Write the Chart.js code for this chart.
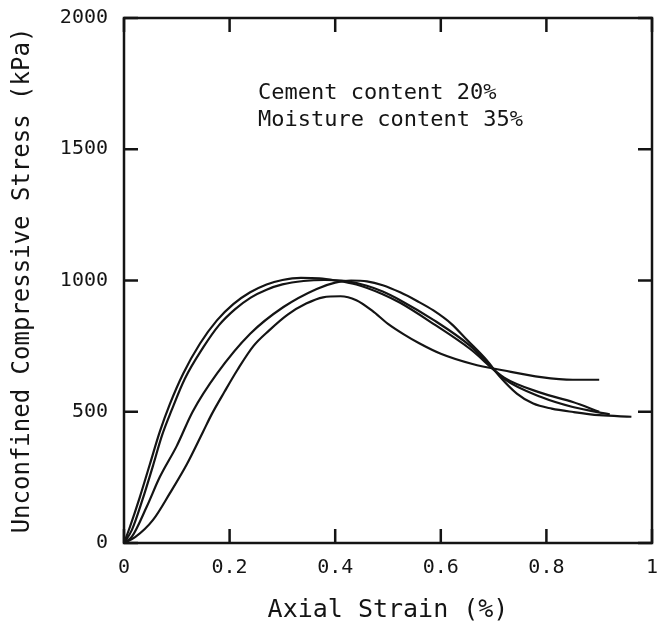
<!DOCTYPE html>
<html>
<head>
<meta charset="utf-8">
<script src="https://cdn.jsdelivr.net/npm/chart.js@4/dist/chart.umd.min.js"></script>
<style>
  html, body { margin: 0; padding: 0; background: #fff; }
</style>
</head>
<body>
<canvas id="chart" width="658" height="625"></canvas>
<script>
// Axis tick labels
const xTickLabels = ['0', '0.2', '0.4', '0.6', '0.8', '1'];
const yTickValues = [0, 500, 1000, 1500, 2000];

// Stress-strain curves: axial strain (%) and unconfined compressive stress (kPa)
const strainA1 = [0, 0.011, 0.03, 0.049, 0.068, 0.087, 0.112, 0.144, 0.176, 0.207, 0.239, 0.27, 0.30, 0.335, 0.37, 0.40, 0.44, 0.49, 0.523, 0.586, 0.655, 0.72, 0.79, 0.85, 0.90];
const stressA1 = [0, 60, 175, 300, 425, 530, 645, 760, 848, 910, 955, 985, 1002, 1010, 1008, 1000, 985, 948, 915, 835, 740, 630, 572, 537, 500];

const strainA2 = [0, 0.015, 0.035, 0.055, 0.072, 0.09, 0.115, 0.15, 0.18, 0.21, 0.24, 0.27, 0.30, 0.34, 0.38, 0.42, 0.46, 0.49, 0.523, 0.586, 0.655, 0.72, 0.79, 0.85, 0.92];
const stressA2 = [0, 50, 165, 295, 410, 505, 625, 745, 830, 890, 935, 965, 985, 998, 1002, 998, 980, 958, 925, 850, 752, 625, 556, 518, 490];

const strainB = [0, 0.015, 0.043, 0.068, 0.1, 0.13, 0.176, 0.239, 0.302, 0.365, 0.40, 0.43, 0.46, 0.49, 0.523, 0.555, 0.586, 0.62, 0.649, 0.687, 0.712, 0.744, 0.775, 0.81, 0.851, 0.90, 0.961];
const stressB = [0, 24, 138, 252, 370, 500, 645, 797, 899, 968, 992, 1000, 997, 982, 955, 922, 886, 835, 775, 696, 633, 569, 531, 512, 499, 487, 481];

const strainC = [0, 0.021, 0.055, 0.087, 0.119, 0.15, 0.166, 0.19, 0.215, 0.245, 0.275, 0.31, 0.345, 0.377, 0.41, 0.44, 0.47, 0.50, 0.53, 0.56, 0.60, 0.66, 0.72, 0.79, 0.85, 0.90];
const stressC = [0, 22, 88, 190, 300, 425, 490, 575, 660, 750, 810, 870, 912, 936, 940, 925, 885, 835, 795, 760, 721, 682, 657, 632, 622, 622];

const noteLines = ['Cement content 20%', 'Moisture content 35%'];

const FONT = "'DejaVu Sans Mono', 'Liberation Mono', monospace";
const INK = '#141414';

function toPoints(xs, ys) {
  return xs.map((v, i) => ({ x: v, y: ys[i] }));
}

function curve(xs, ys) {
  return {
    data: toPoints(xs, ys),
    showLine: true,
    borderColor: INK,
    borderWidth: 2.2,
    pointRadius: 0,
    fill: false,
    cubicInterpolationMode: 'monotone'
  };
}

// Box frame, inward tick marks on all four sides, and the note text
const frameAndTicks = {
  id: 'frameAndTicks',
  afterDraw(chart) {
    const { ctx, chartArea: { left, right, top, bottom }, scales: { x, y } } = chart;
    const len = 14;
    ctx.save();
    ctx.strokeStyle = INK;
    ctx.lineWidth = 2.5;
    ctx.strokeRect(left, top, right - left, bottom - top);
    ctx.beginPath();
    x.ticks.forEach(t => {
      const px = x.getPixelForValue(t.value);
      ctx.moveTo(px, bottom); ctx.lineTo(px, bottom - len);
      ctx.moveTo(px, top); ctx.lineTo(px, top + len);
    });
    y.ticks.forEach(t => {
      const py = y.getPixelForValue(t.value);
      ctx.moveTo(left, py); ctx.lineTo(left + len, py);
      ctx.moveTo(right, py); ctx.lineTo(right - len, py);
    });
    ctx.stroke();

    ctx.fillStyle = INK;
    ctx.font = "22px " + FONT;
    ctx.textAlign = 'left';
    ctx.textBaseline = 'middle';
    const nx = x.getPixelForValue(0.254);
    ctx.fillText(noteLines[0], nx, y.getPixelForValue(1713));
    ctx.fillText(noteLines[1], nx, y.getPixelForValue(1610));
    ctx.restore();
  }
};

new Chart(document.getElementById('chart'), {
  type: 'scatter',
  data: {
    datasets: [
      curve(strainA1, stressA1),
      curve(strainA2, stressA2),
      curve(strainB, stressB),
      curve(strainC, stressC)
    ]
  },
  options: {
    responsive: false,
    animation: false,
    devicePixelRatio: 1,
    layout: { padding: { top: 18, right: 6, left: 0, bottom: 0 } },
    plugins: {
      legend: { display: false },
      tooltip: { enabled: false }
    },
    scales: {
      x: {
        type: 'linear',
        min: 0,
        max: 1,
        afterFit(scale) {
          scale.height = 82;
          scale.paddingLeft = 0;
          scale.paddingRight = 0;
        },
        afterBuildTicks(scale) {
          scale.ticks = xTickLabels.map(l => ({ value: parseFloat(l) }));
        },
        grid: { display: false, drawTicks: false },
        border: { display: false },
        ticks: {
          color: INK,
          font: { family: FONT, size: 20 },
          padding: 13,
          maxRotation: 0,
          callback: (v, i) => xTickLabels[i]
        },
        title: {
          display: true,
          text: 'Axial Strain (%)',
          color: INK,
          font: { family: FONT, size: 25 },
          padding: { top: 0, bottom: 0 }
        }
      },
      y: {
        type: 'linear',
        min: 0,
        max: 2000,
        afterFit(scale) {
          scale.width = 124;
          scale.paddingTop = 0;
          scale.paddingBottom = 0;
        },
        afterBuildTicks(scale) {
          scale.ticks = yTickValues.map(v => ({ value: v }));
        },
        grid: { display: false, drawTicks: false },
        border: { display: false },
        ticks: {
          color: INK,
          font: { family: FONT, size: 20 },
          padding: 16,
          callback: v => String(v)
        },
        title: {
          display: true,
          text: 'Unconfined Compressive Stress (kPa)',
          color: INK,
          font: { family: FONT, size: 24 },
          padding: { top: 8, bottom: 0 }
        }
      }
    }
  },
  plugins: [frameAndTicks]
});
</script>
</body>
</html>
